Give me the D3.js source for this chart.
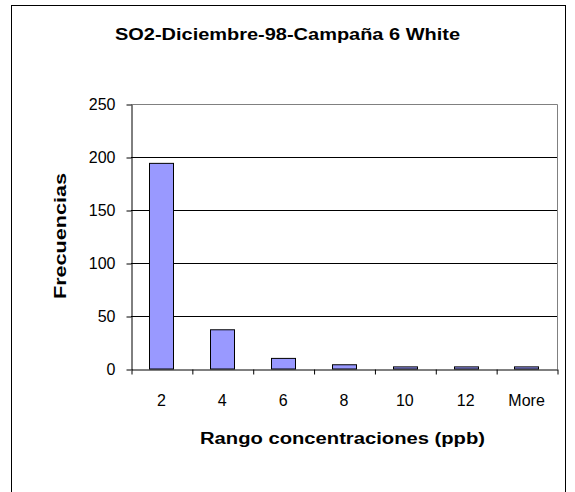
<!DOCTYPE html>
<html>
<head>
<meta charset="utf-8">
<script src="https://cdn.jsdelivr.net/npm/d3@7"></script>
<style>
  html, body { margin: 0; padding: 0; background: #fff; }
  svg { display: block; font-family: Arial, "Liberation Sans", sans-serif; }
</style>
</head>
<body>
<svg id="chart" width="575" height="492"></svg>
<script>
// Histogram of SO2 concentrations
const categories = ["2", "4", "6", "8", "10", "12", "More"];
const frequencies = [194, 37, 10, 4, 2, 2, 2];
const yTicks = [0, 50, 100, 150, 200, 250];

const titleText = "SO2-Diciembre-98-Campaña 6 White";
const xTitle = "Rango concentraciones (ppb)";
const yTitle = "Frecuencias";

const svg = d3.select("#chart");

// chart frame
svg.append("rect")
  .attr("x", 11.5).attr("y", 5.5)
  .attr("width", 554).attr("height", 520)
  .attr("fill", "#fff").attr("stroke", "#000").attr("stroke-width", 1);

const plot = { left: 131, right: 557, top: 104, bottom: 369 };

const x = d3.scaleBand()
  .domain(categories)
  .range([plot.left, plot.right])
  .paddingInner(0.6)
  .paddingOuter(0.3);

// slot boundaries for the category tick marks
const xEdges = d3.scaleLinear()
  .domain([0, categories.length])
  .range([plot.left, plot.right]);

const y = d3.scaleLinear()
  .domain([0, 250])
  .range([plot.bottom, plot.top]);

// plot area border (top & right) in gray
svg.append("path")
  .attr("d", `M${plot.left},${y(250) + 0.5}H${plot.right + 0.5}V${plot.bottom}`)
  .attr("fill", "none").attr("stroke", "#808080").attr("stroke-width", 1);

// horizontal gridlines
svg.append("g")
  .selectAll("line")
  .data(yTicks.filter(v => v > 0 && v < 250))
  .join("line")
  .attr("x1", plot.left).attr("x2", plot.right)
  .attr("y1", d => Math.round(y(d)) + 0.5)
  .attr("y2", d => Math.round(y(d)) + 0.5)
  .attr("stroke", "#000").attr("stroke-width", 1);

// bars
svg.append("g")
  .selectAll("rect")
  .data(frequencies)
  .join("rect")
  .attr("x", (d, i) => Math.round(x(categories[i])) + 0.5)
  .attr("y", d => y(d))
  .attr("width", Math.round(x.bandwidth()))
  .attr("height", d => y(0) - y(d))
  .attr("fill", "#9999FF")
  .attr("stroke", "#000")
  .attr("stroke-width", 1);

// y axis
const yAxis = svg.append("g")
  .attr("transform", `translate(${plot.left + 0.5},0.5)`)
  .call(d3.axisLeft(y).tickValues(yTicks).tickSize(5).tickPadding(11).tickSizeOuter(0));
yAxis.select(".domain").attr("stroke", "#000");
yAxis.selectAll("line").attr("stroke", "#000");
yAxis.selectAll("text").attr("font-size", 16).attr("fill", "#000")
  .attr("font-family", "Arial, 'Liberation Sans', sans-serif");

// x axis line with boundary ticks
const xTickAxis = svg.append("g")
  .attr("transform", `translate(0.5,${plot.bottom + 0.5})`)
  .call(d3.axisBottom(xEdges)
    .tickValues(d3.range(categories.length + 1))
    .tickFormat("")
    .tickSize(5)
    .tickSizeOuter(0));
xTickAxis.select(".domain").attr("stroke", "#000");
xTickAxis.selectAll("line").attr("stroke", "#000");

// x category labels
const xAxis = svg.append("g")
  .attr("transform", `translate(0,${plot.bottom})`)
  .call(d3.axisBottom(x).tickSize(0).tickPadding(26));
xAxis.select(".domain").remove();
xAxis.selectAll("text").attr("font-size", 16).attr("fill", "#000")
  .attr("font-family", "Arial, 'Liberation Sans', sans-serif");

// titles
svg.append("text")
  .attr("x", 287.5).attr("y", 40)
  .attr("text-anchor", "middle")
  .attr("font-size", 16).attr("font-weight", "bold")
  .attr("textLength", 345).attr("lengthAdjust", "spacingAndGlyphs")
  .text(titleText);

svg.append("text")
  .attr("x", 342.5).attr("y", 444)
  .attr("text-anchor", "middle")
  .attr("font-size", 16).attr("font-weight", "bold")
  .attr("textLength", 285).attr("lengthAdjust", "spacingAndGlyphs")
  .text(xTitle);

svg.append("text")
  .attr("transform", `translate(66,236) rotate(-90)`)
  .attr("text-anchor", "middle")
  .attr("font-size", 16).attr("font-weight", "bold")
  .attr("textLength", 126).attr("lengthAdjust", "spacingAndGlyphs")
  .text(yTitle);
</script>
</body>
</html>
